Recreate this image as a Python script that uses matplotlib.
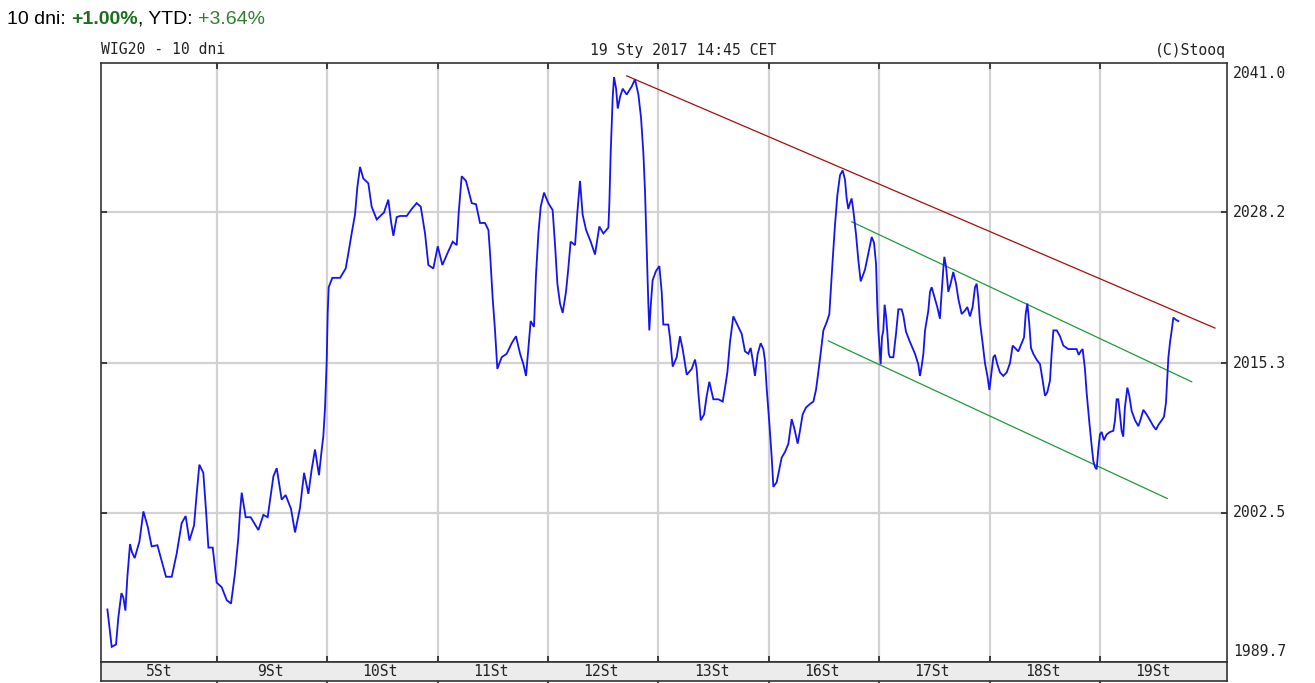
import matplotlib
matplotlib.use("Agg")
import matplotlib.pyplot as plt
from matplotlib.transforms import blended_transform_factory

# ---------------- data ----------------
day_labels = ['5St', '9St', '10St', '11St', '12St', '13St', '16St', '17St', '18St', '19St']
y_ticks = [1989.7, 2002.5, 2015.3, 2028.2, 2041.0]
y_tick_labels = ['1989.7', '2002.5', '2015.3', '2028.2', '2041.0']

# time in trading-day units (day i spans [i, i+1]) and WIG20 level
t_days = [
    0.007, 0.046, 0.085, 0.106, 0.134, 0.152, 0.170, 0.188, 0.212, 0.230,
    0.254, 0.297, 0.333, 0.372, 0.408, 0.460, 0.538, 0.590, 0.635, 0.680,
    0.716, 0.750, 0.792, 0.816, 0.840, 0.876, 0.901, 0.922, 0.961, 0.997,
    1.043, 1.088, 1.127, 1.163, 1.193, 1.209, 1.224, 1.260, 1.305, 1.375,
    1.420, 1.459, 1.486, 1.511, 1.541, 1.586, 1.622, 1.671, 1.707, 1.752,
    1.789, 1.828, 1.858, 1.888, 1.924, 1.949, 1.963, 1.979, 1.994, 2.003,
    2.012, 2.045, 2.115, 2.166, 2.190, 2.220, 2.250, 2.272, 2.296, 2.326,
    2.371, 2.401, 2.447, 2.513, 2.552, 2.577, 2.598, 2.628, 2.658, 2.719,
    2.764, 2.809, 2.846, 2.885, 2.915, 2.960, 3.000, 3.042, 3.097, 3.136,
    3.172, 3.190, 3.217, 3.256, 3.308, 3.347, 3.383, 3.428, 3.459,
    3.474, 3.498, 3.519, 3.540, 3.579, 3.625, 3.670, 3.709, 3.746, 3.776,
    3.800, 3.821, 3.842, 3.872, 3.890, 3.912, 3.933, 3.963,
    4.002, 4.041, 4.063, 4.084, 4.108, 4.132, 4.162, 4.183, 4.204, 4.244,
    4.265, 4.289, 4.313, 4.344, 4.386, 4.425, 4.464, 4.501, 4.546, 4.555,
    4.567, 4.585, 4.597, 4.616, 4.631, 4.652, 4.676, 4.712, 4.758, 4.787,
    4.818, 4.842, 4.863, 4.878, 4.893, 4.908, 4.917, 4.929, 4.947, 4.978,
    5.008, 5.029, 5.044, 5.089, 5.104, 5.129, 5.165, 5.195, 5.219, 5.256,
    5.301, 5.331, 5.346, 5.361, 5.383, 5.413, 5.437, 5.461, 5.497, 5.543,
    5.582, 5.603, 5.624, 5.648, 5.678, 5.714, 5.754, 5.784, 5.814, 5.835,
    5.853, 5.874, 5.899, 5.926, 5.950, 5.965, 5.980,
    6.004, 6.026, 6.041, 6.071, 6.095, 6.116, 6.147, 6.177, 6.207, 6.231,
    6.261, 6.282, 6.306, 6.337, 6.373, 6.403, 6.427, 6.448, 6.469, 6.494,
    6.524, 6.548, 6.560, 6.578, 6.599, 6.621, 6.645, 6.669, 6.690, 6.705,
    6.720, 6.735, 6.750, 6.765, 6.789, 6.811, 6.832,
    6.871, 6.901, 6.932, 6.953, 6.971, 6.983, 6.992,
    7.001, 7.013, 7.025, 7.037, 7.049, 7.061, 7.073, 7.086, 7.098, 7.128,
    7.152, 7.173, 7.203, 7.218, 7.242, 7.279, 7.324, 7.354, 7.369, 7.384,
    7.400, 7.415, 7.445, 7.460, 7.475, 7.496, 7.526, 7.550, 7.566, 7.581,
    7.590, 7.605, 7.626, 7.647, 7.671, 7.696, 7.717, 7.747, 7.777, 7.798,
    7.822, 7.846, 7.868, 7.883, 7.898, 7.913, 7.937, 7.958, 7.980, 7.998,
    8.013, 8.034, 8.049, 8.070, 8.094, 8.124, 8.155, 8.185, 8.209, 8.230,
    8.260, 8.290, 8.312, 8.327, 8.342, 8.360, 8.375, 8.396, 8.426, 8.457,
    8.481, 8.502, 8.523, 8.547, 8.562, 8.578, 8.608, 8.638, 8.668, 8.713,
    8.759, 8.789, 8.807, 8.825, 8.843, 8.864, 8.879, 8.904, 8.925, 8.940,
    8.955, 8.970, 8.985,
    9.000, 9.015, 9.036, 9.061, 9.091, 9.121, 9.136, 9.151, 9.166, 9.181,
    9.196, 9.211, 9.226, 9.248, 9.266, 9.287, 9.318, 9.348, 9.369, 9.393,
    9.423, 9.453, 9.484, 9.508, 9.529, 9.559, 9.580, 9.598, 9.611, 9.620,
    9.635, 9.650, 9.665, 9.689, 9.710,
]
wig20 = [
    1994.2, 1991.0, 1991.2, 1993.5, 1995.6, 1995.2, 1994.1, 1997.0, 1999.8, 1999.1,
    1998.6, 2000.0, 2002.6, 2001.3, 1999.6, 1999.7, 1997.0, 1997.0, 1999.0, 2001.6,
    2002.2, 2000.1, 2001.4, 2004.1, 2006.6, 2005.9, 2002.6, 1999.5, 1999.5, 1996.5,
    1996.1, 1995.0, 1994.7, 1997.3, 2000.3, 2002.6, 2004.2, 2002.1, 2002.1, 2001.0,
    2002.3, 2002.1, 2003.9, 2005.6, 2006.3, 2003.6, 2004.0, 2002.8, 2000.8, 2002.9,
    2005.9, 2004.1, 2006.2, 2007.9, 2005.7, 2007.9, 2009.0, 2011.5, 2015.5, 2019.6,
    2021.8, 2022.6, 2022.6, 2023.4, 2024.7, 2026.4, 2028.0, 2030.4, 2032.1, 2031.1,
    2030.7, 2028.7, 2027.6, 2028.2, 2029.3, 2027.4, 2026.2, 2027.8, 2027.9, 2027.9,
    2028.5, 2029.0, 2028.7, 2026.4, 2023.7, 2023.4, 2025.3, 2023.7, 2024.9, 2025.7,
    2025.4, 2028.2, 2031.3, 2030.9, 2029.0, 2028.9, 2027.3, 2027.3, 2026.7,
    2024.7, 2020.8, 2018.1, 2014.8, 2015.8, 2016.1, 2017.0, 2017.6, 2016.1, 2015.2,
    2014.2, 2016.6, 2018.9, 2018.4, 2022.8, 2026.4, 2028.7, 2029.9,
    2029.0, 2028.4, 2025.4, 2022.1, 2020.4, 2019.6, 2021.4, 2023.4, 2025.7, 2025.4,
    2028.2, 2030.9, 2028.0, 2026.7, 2025.7, 2024.6, 2027.0, 2026.4, 2026.9, 2029.0,
    2033.3, 2038.0, 2039.8, 2038.8, 2037.1, 2038.1, 2038.8, 2038.3, 2039.0, 2039.6,
    2038.3, 2036.3, 2033.3, 2030.0, 2025.1, 2020.4, 2018.1, 2020.1, 2022.4, 2023.2,
    2023.6, 2021.4, 2018.6, 2018.6, 2017.5, 2015.0, 2015.8, 2017.6, 2016.5, 2014.3,
    2014.8, 2015.6, 2014.8, 2012.8, 2010.4, 2010.9, 2012.5, 2013.7, 2012.2, 2012.2,
    2012.0, 2013.2, 2014.5, 2017.1, 2019.3, 2018.6, 2017.8, 2016.3, 2016.1, 2016.6,
    2015.6, 2014.2, 2016.1, 2017.0, 2016.5, 2015.5, 2013.2,
    2010.2, 2007.2, 2004.7, 2005.1, 2006.2, 2007.2, 2007.7, 2008.4, 2010.5, 2009.7,
    2008.4, 2009.5, 2010.9, 2011.5, 2011.8, 2012.0, 2013.0, 2014.5, 2016.1, 2018.1,
    2018.8, 2019.5, 2021.4, 2024.1, 2027.1, 2029.7, 2031.4, 2031.8, 2031.0, 2029.4,
    2028.5, 2029.0, 2029.4, 2028.4, 2026.4, 2024.1, 2022.3,
    2023.3, 2024.7, 2026.1, 2025.6, 2023.8, 2020.1, 2018.1,
    2016.8, 2015.2, 2017.5, 2018.1, 2020.3, 2019.4, 2018.0, 2016.1, 2015.8, 2015.8,
    2017.8, 2019.9, 2019.9, 2019.4, 2018.0, 2017.1, 2016.1, 2015.2, 2014.2, 2015.0,
    2016.1, 2018.1, 2019.8, 2021.4, 2021.8, 2021.1, 2020.1, 2019.1, 2021.4, 2023.4,
    2024.4, 2023.6, 2021.4, 2022.1, 2023.1, 2022.1, 2020.8, 2019.5, 2019.8, 2020.1,
    2019.3, 2020.1, 2021.8, 2022.1, 2020.8, 2018.8, 2017.0, 2015.3, 2014.2, 2013.0,
    2014.2, 2015.8, 2016.0, 2015.2, 2014.5, 2014.2, 2014.5, 2015.3, 2016.8, 2016.6,
    2016.3, 2017.0, 2017.5, 2019.5, 2020.4, 2018.6, 2016.6, 2016.1, 2015.6, 2015.2,
    2013.8, 2012.5, 2012.8, 2013.8, 2016.1, 2018.1, 2018.1, 2017.6, 2016.8, 2016.5,
    2016.5, 2016.5, 2016.0, 2016.3, 2016.5, 2014.8, 2012.8, 2010.2, 2008.2, 2006.9,
    2006.4, 2006.2, 2007.9,
    2009.2, 2009.4, 2008.7, 2009.2, 2009.4, 2009.5, 2010.4, 2012.2, 2012.2, 2010.9,
    2009.5, 2009.0, 2011.5, 2013.2, 2012.5, 2011.2, 2010.4, 2009.9, 2010.5, 2011.3,
    2010.9, 2010.4, 2009.9, 2009.6, 2010.0, 2010.4, 2010.7, 2011.9, 2014.2, 2015.8,
    2017.1, 2018.1, 2019.2, 2019.0, 2018.9,
]

# trend lines (endpoints in time / level)
red_t, red_v = [4.712, 10.042], [2039.9, 2018.3]
green_up_t, green_up_v = [6.751, 9.831], [2027.4, 2013.7]
green_lo_t, green_lo_v = [6.539, 9.610], [2017.2, 2003.7]

x_min, x_max = -0.051, 10.151

# ---------------- figure ----------------
W, H = 1315, 683
fig = plt.figure(figsize=(W / 100, H / 100), dpi=100)
fig.patch.set_facecolor('white')

ax = fig.add_axes([101 / W, 1 - 662 / H, 1126 / W, 599 / H])
ax.set_xlim(x_min, x_max)
ax.set_ylim(y_ticks[0], y_ticks[-1])
ax.set_xticks(range(1, len(day_labels)))
ax.set_yticks(y_ticks[1:-1])
ax.grid(True, color='#d2d2d2', lw=1.6, zorder=0)
ax.set_axisbelow(True)
ax.tick_params(direction='in', length=4, width=1.2, color='#222222',
               top=True, right=True, labelbottom=False, labelleft=False)
for s in ax.spines.values():
    s.set_color('#333333')
    s.set_linewidth(1.2)

ax.plot(t_days, wig20, color='#1414f0', lw=1.3, zorder=3, solid_joinstyle='miter')
ax.plot(red_t, red_v, color='#a80c0c', lw=0.9, zorder=2)
ax.plot(green_up_t, green_up_v, color='#1f9a3a', lw=0.9, zorder=2)
ax.plot(green_lo_t, green_lo_v, color='#1f9a3a', lw=0.9, zorder=2)

mono = 'DejaVu Sans Mono'
mfs = 10.6
trans = blended_transform_factory(ax.transAxes, ax.transData)
for i, (yv, lab) in enumerate(zip(y_ticks, y_tick_labels)):
    off = 0
    if i == len(y_ticks) - 1:
        off = -11
    elif i == 0:
        off = 10
    ax.annotate(lab, xy=(1.0, yv), xycoords=trans, xytext=(6, off),
                textcoords='offset pixels', ha='left', va='center',
                fontsize=mfs, family=mono, color='#222222', annotation_clip=False)

# date band
axb = fig.add_axes([101 / W, 1 - 681 / H, 1126 / W, 19 / H])
axb.set_facecolor('#ececec')
axb.set_xlim(x_min, x_max)
axb.set_ylim(0, 1)
axb.set_yticks([])
axb.set_xticks(range(1, len(day_labels)))
axb.tick_params(axis='x', direction='out', length=3, width=1.2, color='#222222',
                labelbottom=False)
for s in axb.spines.values():
    s.set_color('#333333')
    s.set_linewidth(1.2)
for i, lab in enumerate(day_labels):
    lo = max(i, x_min)
    hi = i + 1
    axb.text((lo + hi) / 2 - 0.02, 0.5, lab, ha='center', va='center',
             fontsize=mfs, family=mono, color='#222222')

# header texts
fig.text(101 / W, 1 - 50 / H, 'WIG20 - 10 dni', ha='left', va='center',
         fontsize=mfs, family=mono, color='#222222')
fig.text(590 / W, 1 - 50 / H, '19 Sty 2017 14:45 CET', ha='left', va='center',
         fontsize=mfs, family=mono, color='#222222')
fig.text(1226 / W, 1 - 50 / H, '(C)Stooq', ha='right', va='center',
         fontsize=mfs, family=mono, color='#222222')

sans = 'Liberation Sans'
t1 = fig.text(7 / W, 1 - 19 / H, '10 dni: ', ha='left', va='center',
              fontsize=14, family=sans, color='black')
parts = [('+1.00%', '#1b6e1b', 'bold'), (', YTD: ', 'black', 'normal'),
         ('+3.64%', '#2e7d2e', 'normal')]
prev = t1
for txt, col, wt in parts:
    prev = ax.annotate(txt, xy=(1, 0), xycoords=prev, xytext=(0, 0),
                       textcoords='offset points', ha='left', va='bottom',
                       fontsize=14, family=sans, color=col, fontweight=wt,
                       annotation_clip=False)

fig.savefig('out.png', dpi=100, facecolor='white')
